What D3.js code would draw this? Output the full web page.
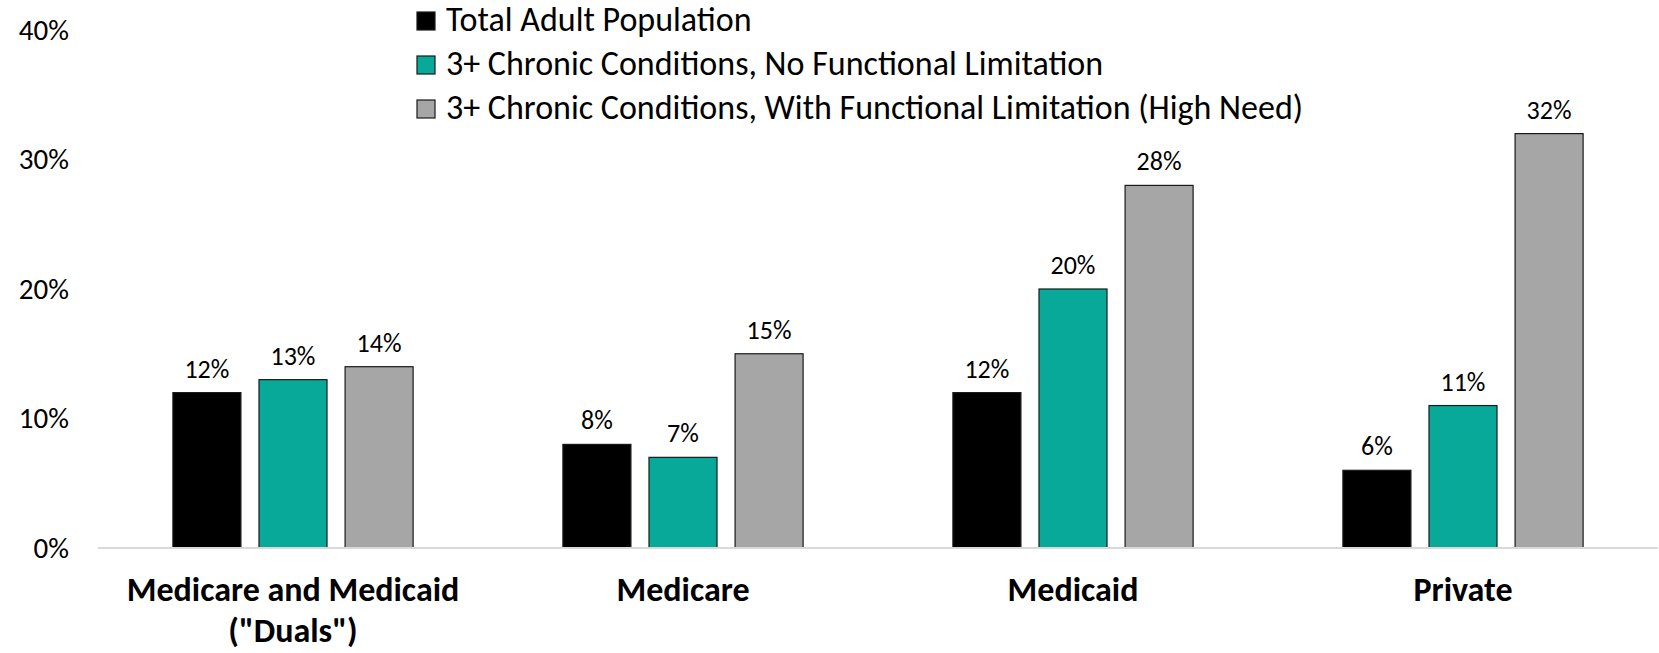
<!DOCTYPE html>
<html>
<head>
<meta charset="utf-8">
<script src="https://cdn.jsdelivr.net/npm/d3@7"></script>
<style>
  html, body { margin: 0; padding: 0; background: #fff; }
  svg { display: block; font-family: Carlito, Lato, 'Open Sans', sans-serif; }
</style>
</head>
<body>
<svg id="chart" width="1659" height="653"></svg>
<script>
(function () {
  'use strict';

  // ---- Data ----
  const categories = ['Medicare and Medicaid\n("Duals")', 'Medicare', 'Medicaid', 'Private'];
  const seriesNames = [
    'Total Adult Population',
    '3+ Chronic Conditions, No Functional Limitation',
    '3+ Chronic Conditions, With Functional Limitation (High Need)'
  ];
  const totalAdult = [12, 8, 12, 6];
  const noLimitation = [13, 7, 20, 11];
  const highNeed = [14, 15, 28, 32];
  const yTicks = [0, 10, 20, 30, 40];

  const seriesValues = [totalAdult, noLimitation, highNeed];
  const COLORS = ['#000000', '#09a99a', '#a6a6a6'];
  const FONT = "Carlito, Lato, 'Open Sans', sans-serif";

  const svg = d3.select('#chart');

  // Scales
  const x0 = d3.scaleBand().domain(categories).range([98, 1658]).padding(0);
  const x1 = d3.scaleBand()
    .domain(d3.range(seriesNames.length))
    .range([0, x0.bandwidth()])
    .paddingInner(0.21)
    .paddingOuter(0.87);
  const y = d3.scaleLinear().domain([0, 40]).range([548, 30]);

  // Y axis (labels only)
  const yAxis = svg.append('g')
    .attr('transform', 'translate(98,0)')
    .call(d3.axisLeft(y).tickValues(yTicks).tickSize(0).tickPadding(29)
      .tickFormat(function (d) { return d + '%'; }));
  yAxis.select('.domain').remove();
  yAxis.selectAll('text')
    .attr('font-size', 29)
    .attr('font-family', FONT)
    .attr('fill', '#000');

  // Bars
  const groups = svg.append('g')
    .selectAll('g')
    .data(categories)
    .enter()
    .append('g')
    .attr('transform', function (d) { return 'translate(' + x0(d) + ',0)'; });

  groups.each(function (cat, ci) {
    const g = d3.select(this);
    const rows = seriesValues.map(function (vals, si) {
      return { si: si, value: vals[ci] };
    });

    g.selectAll('rect')
      .data(rows)
      .enter()
      .append('rect')
      .attr('x', function (d) { return x1(d.si); })
      .attr('y', function (d) { return y(d.value); })
      .attr('width', x1.bandwidth())
      .attr('height', function (d) { return y(0) - y(d.value); })
      .attr('fill', function (d) { return COLORS[d.si]; })
      .attr('stroke', '#1a1a1a')
      .attr('stroke-width', 1.2);

    g.selectAll('text.val')
      .data(rows)
      .enter()
      .append('text')
      .attr('class', 'val')
      .attr('x', function (d) { return x1(d.si) + x1.bandwidth() / 2; })
      .attr('y', function (d) { return y(d.value) - 15; })
      .attr('text-anchor', 'middle')
      .attr('font-size', 26)
      .attr('fill', '#000')
      .text(function (d) { return d.value + '%'; });
  });

  // Baseline
  svg.append('line')
    .attr('x1', x0.range()[0])
    .attr('x2', x0.range()[1])
    .attr('y1', y(0))
    .attr('y2', y(0))
    .attr('stroke', '#d9d9d9')
    .attr('stroke-width', 2);

  // Category labels
  const catLabel = svg.append('g')
    .selectAll('text')
    .data(categories)
    .enter()
    .append('text')
    .attr('x', function (d) { return x0(d) + x0.bandwidth() / 2; })
    .attr('y', 601)
    .attr('text-anchor', 'middle')
    .attr('font-size', 34)
    .attr('font-weight', 'bold')
    .attr('fill', '#000');

  catLabel.each(function (d) {
    const t = d3.select(this);
    d.split('\n').forEach(function (line, i) {
      t.append('tspan')
        .attr('x', t.attr('x'))
        .attr('dy', i === 0 ? 0 : 41)
        .text(line);
    });
  });

  // Legend
  const legend = svg.append('g')
    .selectAll('g')
    .data(seriesNames)
    .enter()
    .append('g')
    .attr('transform', function (d, i) { return 'translate(417,' + (21 + i * 44) + ')'; });

  legend.append('rect')
    .attr('x', 0)
    .attr('y', -9)
    .attr('width', 18)
    .attr('height', 18)
    .attr('fill', function (d, i) { return COLORS[i]; })
    .attr('stroke', '#1a1a1a')
    .attr('stroke-width', 1.2);

  legend.append('text')
    .attr('x', 29)
    .attr('y', 9.5)
    .attr('font-size', 34)
    .attr('fill', '#000')
    .text(function (d) { return d; });
})();
</script>
</body>
</html>
